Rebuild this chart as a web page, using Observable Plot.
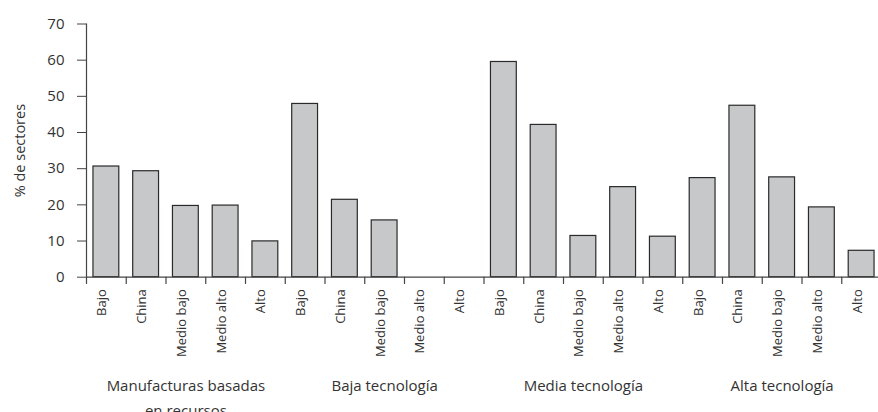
<!DOCTYPE html>
<html>
<head>
<meta charset="utf-8">
<script src="https://cdn.jsdelivr.net/npm/d3@7"></script>
<script src="https://cdn.jsdelivr.net/npm/@observablehq/plot@0.6"></script>
<style>
  html, body { margin: 0; padding: 0; background: #fff; }
  #chart svg { display: block; }
</style>
</head>
<body>
<div id="chart"></div>
<script>
// Data
const groups = ["Manufacturas basadas\nen recursos", "Baja tecnología", "Media tecnología", "Alta tecnología"];
const levels = ["Bajo", "China", "Medio bajo", "Medio alto", "Alto"];
const manufacturas = [30.6, 29.3, 19.7, 19.8, 9.9];
const bajaTec = [47.9, 21.4, 15.7, 0, 0];
const mediaTec = [59.5, 42.1, 11.4, 24.9, 11.2];
const altaTec = [27.4, 47.4, 27.6, 19.3, 7.3];
const yTicks = [0, 10, 20, 30, 40, 50, 60, 70];
const yLabel = "% de sectores";

const series = [manufacturas, bajaTec, mediaTec, altaTec];
const data = groups.flatMap((g, gi) =>
  levels.map((l, li) => ({id: gi * levels.length + li, group: g, level: l, value: series[gi][li]}))
);
const ids = data.map(d => d.id);
const groupData = groups.map((g, gi) => ({id: gi * levels.length + Math.floor(levels.length / 2), label: g}));

const W = 878, H = 412;
const left = 86, right = 881, zeroY = 276.7, topY = 23.5;
const step = (right - left) / ids.length;
const textColor = "#333";
const font = "Open Sans, sans-serif";

const chart = Plot.plot({
  width: W,
  height: H,
  marginTop: topY,
  marginBottom: H - zeroY,
  marginLeft: left,
  marginRight: 0,
  style: {fontFamily: font, color: textColor, background: "#fff"},
  x: {type: "band", domain: ids, range: [left, right], round: false, paddingInner: 0.35, paddingOuter: 0.175, axis: null},
  y: {domain: [0, 70], axis: null},
  marks: [
    Plot.axisY({ticks: yTicks, tickSize: 9, tickPadding: 13, fontSize: 15, label: null, stroke: "#444", fill: "#333"}),
    Plot.text([yLabel], {frameAnchor: "left", textAnchor: "middle", dx: -66, rotate: -90, fontSize: 14.5, fill: textColor}),
    Plot.barY(data, {x: "id", y: "value", fill: "#c7c8ca", stroke: "#2a2a2a", strokeWidth: 1.2}),
    Plot.ruleY([0], {stroke: "#444", strokeWidth: 1.2}),
    Plot.frame({anchor: "left", stroke: "#444", strokeWidth: 1.2}),
    Plot.ruleX(data, {x: "id", dx: -step / 2, y1: 0, y2: -2.0, stroke: "#444", strokeWidth: 1.2}),
    Plot.text(data, {x: "id", text: "level", frameAnchor: "bottom", dy: 12, rotate: -90, textAnchor: "end", fontSize: 13, fill: textColor}),
    Plot.text(groupData, {x: "id", text: "label", frameAnchor: "bottom", dy: 97, lineAnchor: "top", lineHeight: 1.62, fontSize: 15, fill: textColor})
  ]
});
document.getElementById("chart").appendChild(chart);
</script>
</body>
</html>
